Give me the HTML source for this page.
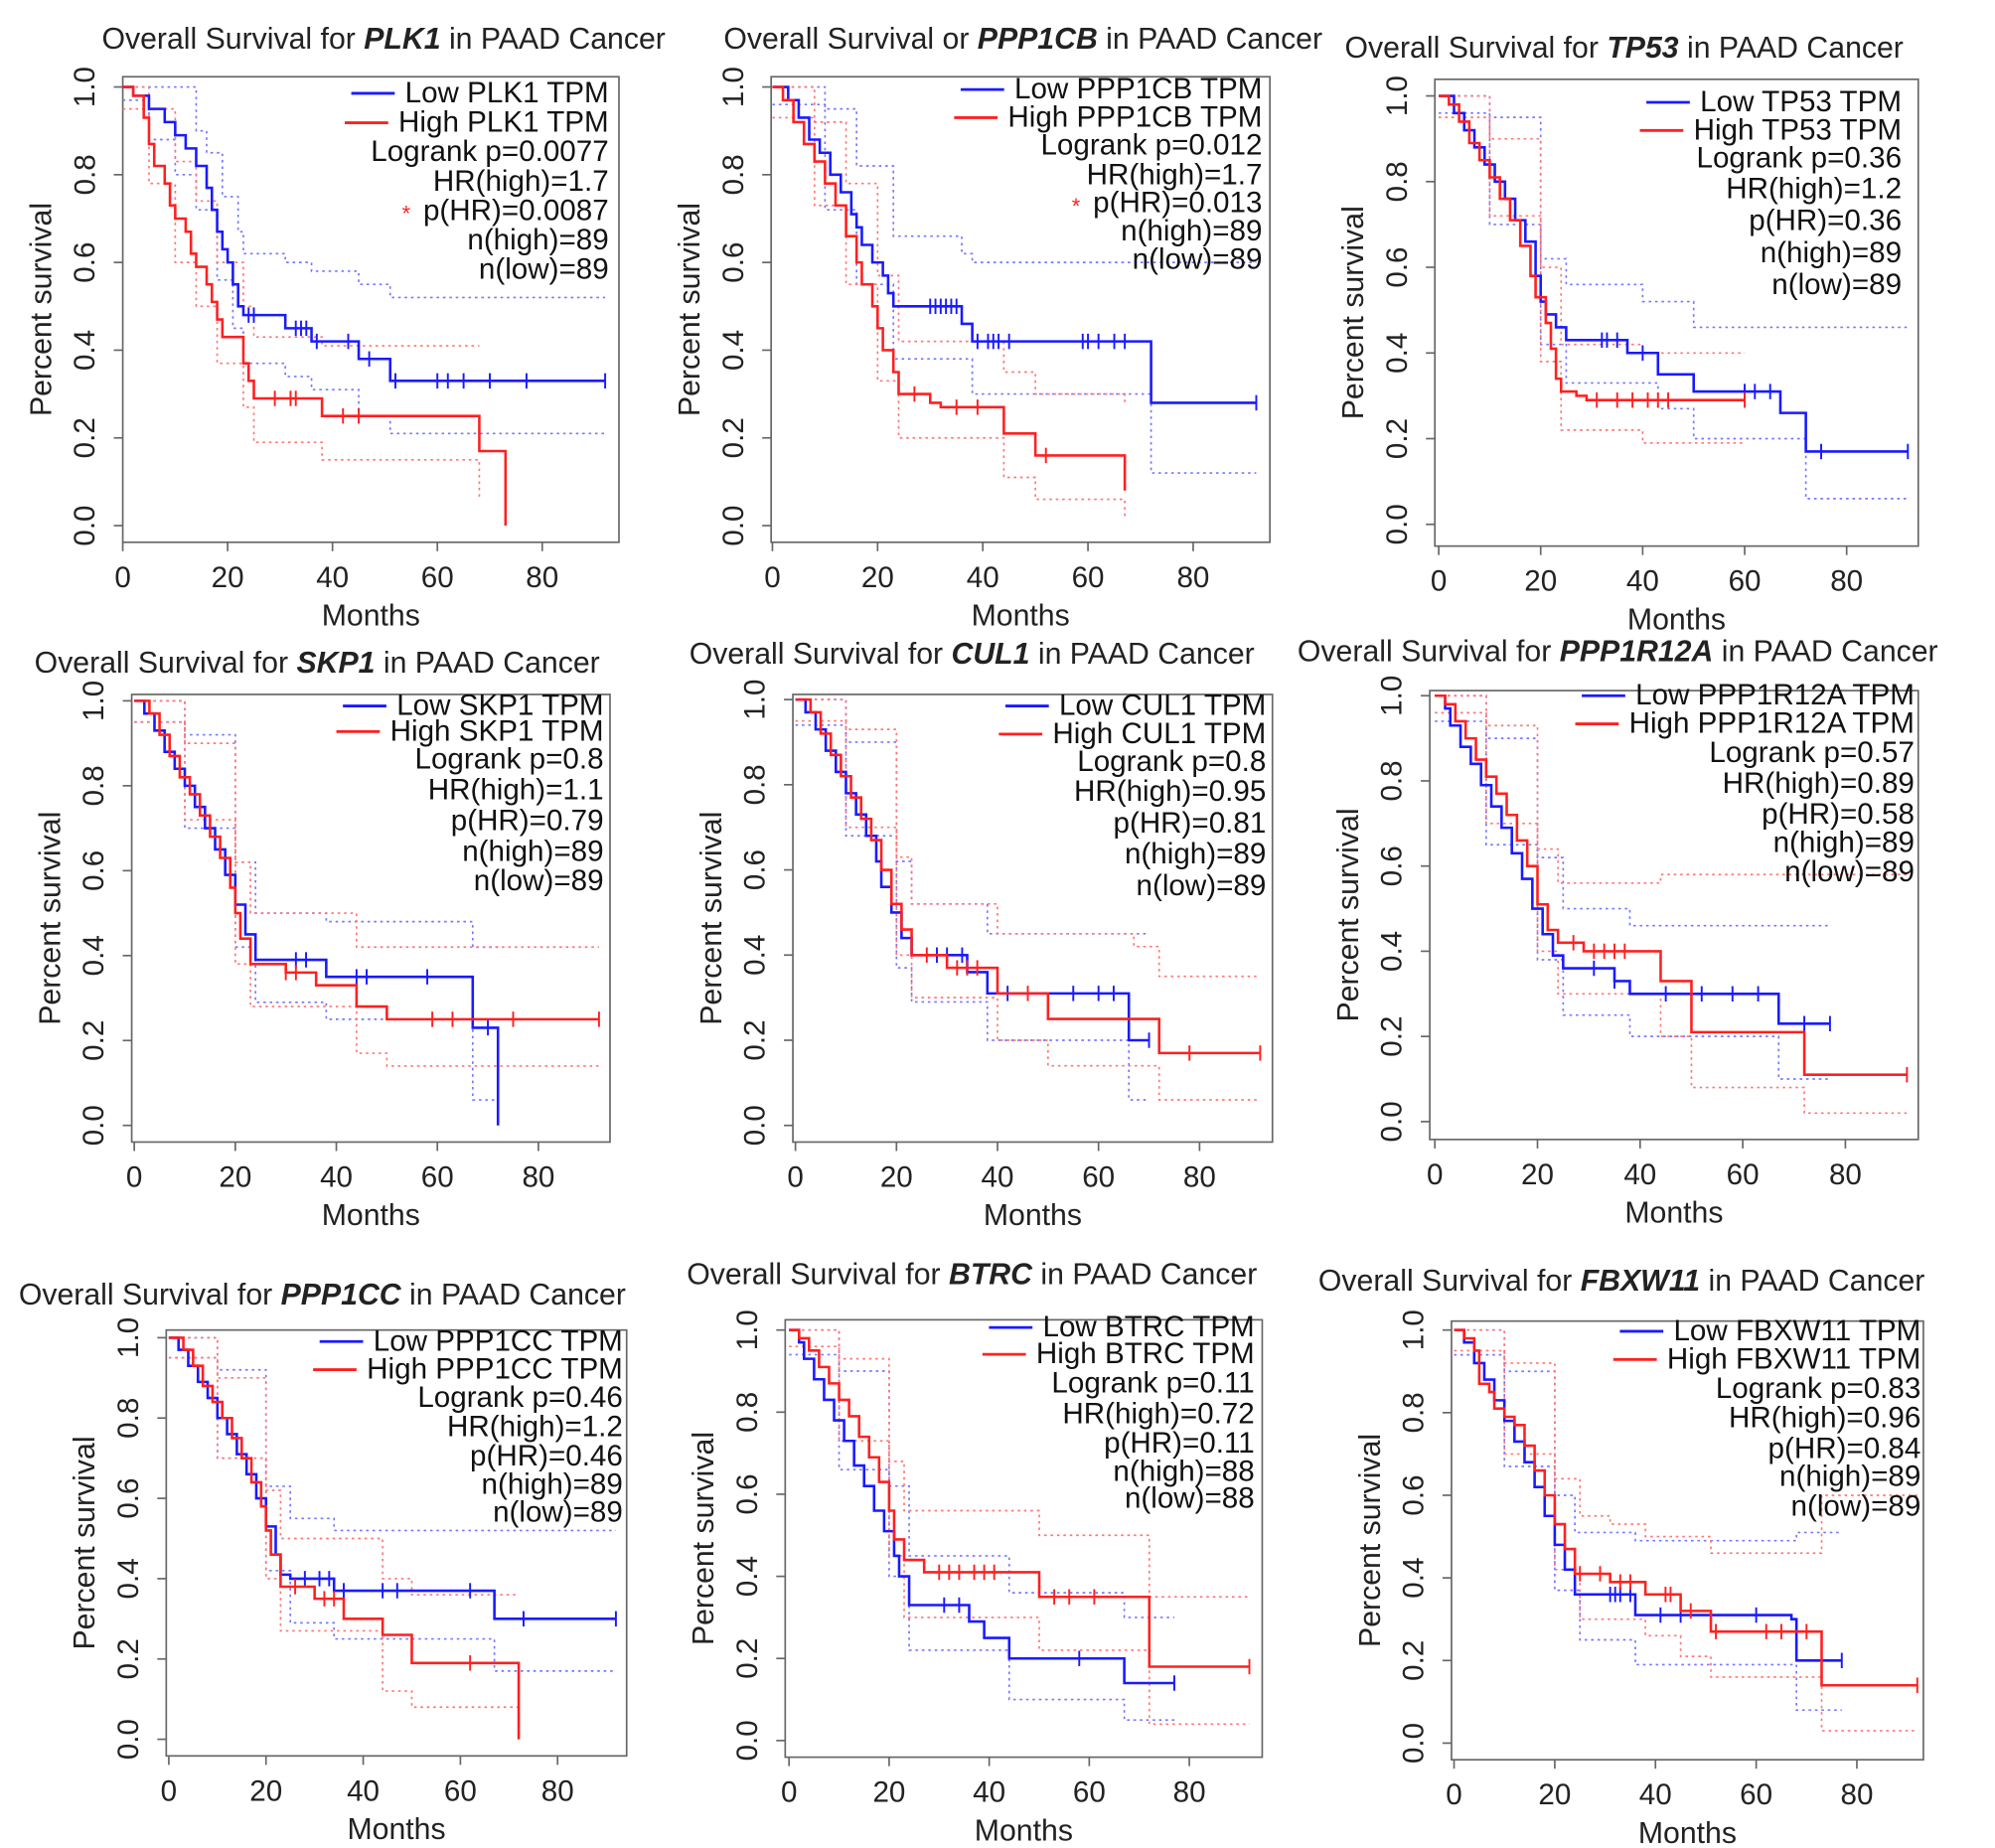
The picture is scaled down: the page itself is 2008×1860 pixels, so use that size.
<!DOCTYPE html>
<html><head><meta charset="utf-8"><style>
html,body{margin:0;padding:0;background:#fff;}
svg{display:block;font-family:"Liberation Sans",sans-serif;}
</style></head><body>
<svg id="fig" width="2008" height="1860" viewBox="0 0 1560 1445" xmlns="http://www.w3.org/2000/svg"></svg>
<script>
// ---- data ----
const genes = ["PLK1","PPP1CB","TP53","SKP1","CUL1","PPP1R12A","PPP1CC","BTRC","FBXW11"];
const titlePre = ["Overall Survival for ","Overall Survival or ","Overall Survival for ","Overall Survival for ","Overall Survival for ","Overall  Survival for ","Overall Survival for ","Overall Survival for ","Overall Survival for "];
const logrankP = ["0.0077","0.012","0.36","0.8","0.8","0.57","0.46","0.11","0.83"];
const hrHigh = ["1.7","1.7","1.2","1.1","0.95","0.89","1.2","0.72","0.96"];
const pHR = ["0.0087","0.013","0.36","0.79","0.81","0.58","0.46","0.11","0.84"];
const nHigh = [89,89,89,89,89,89,89,88,89];
const nLow = [89,89,89,89,89,89,89,88,89];
const significant = [true,true,false,false,false,false,false,false,false];
const xTicks = [0,20,40,60,80];
const yTicks = [0,0.2,0.4,0.6,0.8,1.0];
const yTickLabels = ["0.0","0.2","0.4","0.6","0.8","1.0"];

const lowCurves = [
 [[0,1],[2,0.98],[5,0.95],[8,0.92],[10,0.89],[12,0.86],[14,0.82],[16,0.77],[17,0.72],[18,0.67],[19,0.63],[20,0.6],[21,0.55],[22,0.5],[23,0.48],[31,0.45],[36,0.42],[45,0.38],[51,0.33],[92,0.33]],
 [[0,1],[3,0.97],[5,0.93],[7,0.88],[9,0.85],[11,0.8],[13,0.76],[15,0.71],[16,0.68],[17,0.64],[19,0.6],[21,0.57],[22,0.53],[23,0.5],[36,0.46],[38,0.42],[72,0.28],[92,0.28]],
 [[0,1],[3,0.96],[5,0.92],[7,0.88],[9,0.84],[11,0.8],[13,0.76],[15,0.71],[17,0.66],[19,0.58],[20,0.52],[21,0.49],[23,0.46],[25,0.43],[37,0.4],[43,0.35],[50,0.31],[67,0.26],[72,0.17],[92,0.17]],
 [[0,1],[2,0.97],[4,0.93],[6,0.88],[8,0.84],[10,0.8],[12,0.75],[14,0.7],[16,0.65],[18,0.59],[20,0.52],[22,0.45],[24,0.39],[38,0.35],[67,0.23],[72,0.0]],
 [[0,1],[2,0.97],[4,0.93],[6,0.88],[8,0.83],[10,0.78],[12,0.73],[14,0.68],[16,0.62],[17,0.56],[19,0.5],[21,0.44],[23,0.4],[34,0.36],[38,0.31],[66,0.2],[70,0.2]],
 [[0,1],[2,0.97],[3,0.93],[5,0.88],[7,0.84],[9,0.79],[11,0.74],[13,0.69],[15,0.63],[17,0.57],[19,0.5],[21,0.44],[23,0.39],[25,0.36],[35,0.33],[38,0.3],[67,0.23],[77,0.23]],
 [[0,1],[2,0.97],[4,0.93],[6,0.89],[8,0.85],[10,0.8],[12,0.76],[14,0.71],[16,0.66],[18,0.6],[20,0.53],[22,0.46],[23,0.41],[25,0.4],[34,0.37],[67,0.3],[92,0.3]],
 [[0,1],[2,0.97],[3,0.93],[5,0.88],[7,0.83],[9,0.78],[11,0.73],[13,0.67],[15,0.62],[17,0.56],[19,0.51],[21,0.45],[22,0.4],[24,0.33],[36,0.29],[39,0.25],[44,0.2],[67,0.14],[77,0.14]],
 [[0,1],[2,0.97],[4,0.92],[6,0.88],[8,0.83],[10,0.78],[12,0.73],[14,0.68],[16,0.62],[18,0.55],[20,0.48],[22,0.42],[24,0.36],[36,0.31],[67,0.3],[68,0.2],[77,0.2]]
];
const highCurves = [
 [[0,1],[2,0.98],[4,0.93],[5,0.87],[6,0.82],[8,0.78],[9,0.73],[10,0.7],[12,0.67],[13,0.62],[14,0.59],[16,0.55],[17,0.51],[18,0.47],[19,0.43],[23,0.37],[24,0.33],[25,0.29],[38,0.25],[68,0.17],[73,0.0]],
 [[0,1],[2,0.97],[4,0.92],[6,0.87],[8,0.83],[10,0.78],[12,0.73],[14,0.66],[16,0.6],[17,0.55],[19,0.5],[20,0.45],[21,0.4],[23,0.35],[24,0.3],[30,0.28],[32,0.27],[44,0.21],[50,0.16],[67,0.08]],
 [[0,1],[2,0.98],[4,0.94],[6,0.89],[8,0.85],[10,0.81],[12,0.76],[14,0.71],[16,0.65],[18,0.58],[19,0.53],[21,0.47],[22,0.41],[23,0.34],[24,0.31],[27,0.3],[29,0.29],[60,0.29]],
 [[0,1],[3,0.97],[5,0.92],[7,0.87],[9,0.82],[11,0.78],[13,0.73],[15,0.68],[17,0.63],[19,0.56],[20,0.5],[21,0.44],[23,0.38],[30,0.36],[36,0.33],[44,0.28],[50,0.25],[92,0.25]],
 [[0,1],[3,0.97],[5,0.92],[7,0.87],[9,0.82],[11,0.77],[13,0.72],[15,0.67],[17,0.6],[19,0.52],[21,0.46],[23,0.4],[30,0.37],[40,0.31],[50,0.25],[72,0.17],[92,0.17]],
 [[0,1],[2,0.98],[4,0.94],[6,0.9],[8,0.85],[10,0.81],[12,0.77],[14,0.72],[16,0.66],[18,0.6],[20,0.51],[22,0.45],[24,0.42],[29,0.4],[44,0.33],[50,0.21],[72,0.11],[92,0.11]],
 [[0,1],[3,0.97],[5,0.93],[7,0.88],[9,0.84],[11,0.8],[13,0.75],[15,0.7],[17,0.64],[19,0.58],[20,0.52],[21,0.46],[23,0.38],[30,0.35],[36,0.3],[44,0.26],[50,0.19],[72,0.0]],
 [[0,1],[2,0.98],[4,0.95],[6,0.91],[8,0.87],[10,0.83],[12,0.79],[14,0.74],[16,0.69],[18,0.63],[20,0.56],[21,0.49],[23,0.44],[27,0.41],[50,0.35],[72,0.18],[92,0.18]],
 [[0,1],[2,0.98],[4,0.95],[5,0.87],[7,0.85],[8,0.81],[10,0.79],[12,0.77],[14,0.72],[16,0.66],[18,0.6],[20,0.53],[22,0.47],[24,0.41],[31,0.39],[38,0.36],[45,0.32],[51,0.27],[73,0.14],[92,0.14]]
];
const lowCensor = [[24,25,33,34,35,37,43,47,52,60,62,65,70,77,92],[30,31,32,33,34,35,39,41,42,43,45,59,60,62,65,67,92],[32,33,35,40,60,62,65,75,92],[32,34,44,46,58,70],[28,30,33,42,55,60,63,70],[31,35,45,52,58,63,72,77],[28,31,33,36,44,47,62,73,92],[31,34,58,77],[31,32,33,35,41,45,60,77]];
const highCensor = [[29,32,33,42,45],[27,35,39,52],[31,35,38,41,43,45,60],[30,32,59,63,75,92],[26,32,34,36,46,78,92],[27,31,33,35,37,92],[26,32,34,62],[30,32,34,37,39,41,53,56,61,92],[25,29,33,35,42,43,47,52,62,65,70,92]];
const lowUpper = [
 [[0,1],[8,1],[14,0.9],[16,0.85],[19,0.75],[22,0.67],[23,0.62],[31,0.6],[36,0.58],[45,0.55],[51,0.52],[92,0.52]],
 [[0,1],[10,0.95],[16,0.82],[23,0.66],[36,0.62],[38,0.6],[92,0.6]],
 [[0,1],[10,0.95],[20,0.62],[25,0.56],[40,0.52],[50,0.46],[92,0.46]],
 [[0,1],[10,0.92],[20,0.62],[24,0.5],[38,0.48],[67,0.42],[72,0.42]],
 [[0,1],[10,0.9],[20,0.62],[23,0.52],[38,0.45],[70,0.45]],
 [[0,1],[10,0.9],[20,0.62],[25,0.5],[38,0.46],[77,0.46]],
 [[0,1],[10,0.92],[20,0.63],[25,0.55],[34,0.52],[92,0.52]],
 [[0,1],[10,0.9],[20,0.62],[24,0.45],[44,0.36],[67,0.3],[77,0.3]],
 [[0,1],[10,0.9],[20,0.6],[24,0.51],[36,0.49],[68,0.51],[77,0.51]]
];
const lowLower = [
 [[0,0.97],[5,0.88],[10,0.8],[14,0.72],[18,0.56],[21,0.45],[23,0.37],[31,0.34],[36,0.31],[45,0.25],[51,0.21],[92,0.21]],
 [[0,0.96],[10,0.72],[16,0.55],[23,0.38],[38,0.3],[72,0.12],[92,0.12]],
 [[0,0.96],[10,0.7],[20,0.42],[25,0.33],[43,0.27],[50,0.2],[72,0.06],[92,0.06]],
 [[0,0.95],[10,0.7],[20,0.42],[24,0.29],[38,0.25],[67,0.06],[72,0.0]],
 [[0,0.94],[10,0.68],[20,0.37],[23,0.29],[38,0.2],[66,0.06],[70,0.06]],
 [[0,0.94],[10,0.65],[20,0.38],[25,0.25],[38,0.2],[67,0.1],[77,0.1]],
 [[0,0.95],[10,0.7],[20,0.42],[25,0.29],[34,0.25],[67,0.17],[92,0.17]],
 [[0,0.94],[10,0.66],[20,0.4],[24,0.22],[44,0.1],[67,0.05],[77,0.05]],
 [[0,0.94],[10,0.67],[20,0.37],[25,0.25],[36,0.19],[68,0.08],[77,0.08]]
];
const highUpper = [
 [[0,1],[5,0.95],[10,0.83],[14,0.74],[18,0.6],[23,0.5],[25,0.43],[38,0.41],[68,0.41]],
 [[0,1],[8,0.92],[14,0.78],[20,0.57],[24,0.42],[44,0.35],[50,0.3],[67,0.28]],
 [[0,1],[10,0.9],[20,0.6],[24,0.42],[40,0.4],[60,0.4]],
 [[0,1],[10,0.9],[20,0.62],[23,0.5],[44,0.42],[92,0.42]],
 [[0,1],[10,0.93],[20,0.63],[23,0.52],[40,0.45],[67,0.42],[72,0.35],[92,0.35]],
 [[0,1],[10,0.93],[20,0.64],[24,0.56],[44,0.58],[92,0.58]],
 [[0,1],[10,0.9],[20,0.62],[23,0.5],[44,0.4],[50,0.36],[72,0.36]],
 [[0,1],[10,0.93],[20,0.68],[23,0.56],[50,0.5],[72,0.35],[92,0.35]],
 [[0,1],[10,0.92],[20,0.64],[25,0.55],[31,0.53],[38,0.5],[51,0.46],[73,0.6],[92,0.6]]
];
const highLower = [
 [[0,0.95],[5,0.78],[10,0.6],[14,0.5],[18,0.37],[23,0.27],[25,0.19],[38,0.15],[67,0.15],[68,0.06]],
 [[0,0.93],[8,0.73],[14,0.55],[20,0.33],[24,0.2],[44,0.11],[50,0.06],[67,0.02]],
 [[0,0.95],[10,0.72],[20,0.38],[24,0.22],[40,0.19],[60,0.19]],
 [[0,0.95],[10,0.72],[20,0.38],[23,0.28],[44,0.17],[50,0.14],[92,0.14]],
 [[0,0.95],[10,0.7],[20,0.4],[23,0.3],[40,0.2],[50,0.14],[72,0.06],[92,0.06]],
 [[0,0.96],[10,0.7],[20,0.4],[24,0.3],[44,0.2],[50,0.08],[72,0.02],[92,0.02]],
 [[0,0.95],[10,0.7],[20,0.4],[23,0.27],[44,0.12],[50,0.08],[72,0.0]],
 [[0,0.96],[10,0.73],[20,0.45],[23,0.3],[50,0.22],[72,0.04],[92,0.04]],
 [[0,0.95],[10,0.7],[20,0.42],[25,0.3],[38,0.26],[45,0.21],[51,0.16],[73,0.03],[92,0.03]]
];

// ---- layout (preview units; viewBox scales to 2008x1860) ----
const panels = [
 {L:96,R:484,T:60,B:424,x0:96,x80:424,y1:68,y0:411,tx:300,ty:38,lr:476,ly:[80,103,126,149,172,195,218]},
 {L:603,R:993,T:60,B:424,x0:604,x80:933,y1:68,y0:411,tx:800,ty:38,lr:987,ly:[77,99,121,144,166,188,210]},
 {L:1122,R:1500,T:62,B:427,x0:1125,x80:1444,y1:75,y0:410,tx:1270,ty:45,lr:1487,ly:[87,109,131,155,180,205,230]},
 {L:103,R:477,T:543,B:893,x0:105,x80:421,y1:548,y0:880,tx:248,ty:526,lr:472,ly:[559,579,601,625,649,673,696]},
 {L:620,R:995,T:543,B:893,x0:622,x80:938,y1:547,y0:880,tx:760,ty:519,lr:990,ly:[559,581,603,626,651,675,700]},
 {L:1118,R:1500,T:540,B:891,x0:1122,x80:1443,y1:544,y0:877,tx:1265,ty:517,lr:1497,ly:[551,573,596,620,644,666,689]},
 {L:130,R:490,T:1040,B:1373,x0:132,x80:436,y1:1046,y0:1360,tx:252,ty:1020,lr:487,ly:[1056,1078,1100,1123,1146,1168,1190]},
 {L:614,R:987,T:1032,B:1374,x0:617,x80:930,y1:1040,y0:1361,tx:760,ty:1004,lr:981,ly:[1045,1066,1089,1113,1136,1158,1179]},
 {L:1135,R:1504,T:1033,B:1376,x0:1137,x80:1452,y1:1040,y0:1363,tx:1268,ty:1009,lr:1502,ly:[1048,1070,1093,1116,1140,1162,1185]}
];
const NS="http://www.w3.org/2000/svg";
const svg=document.getElementById('fig');
function el(tag,attrs,parent,text){const e=document.createElementNS(NS,tag);for(const k in attrs)e.setAttribute(k,attrs[k]);if(text!==undefined)e.textContent=text;(parent||svg).appendChild(e);return e;}
function stepPath(pts,xs,ys){let d="M"+xs(pts[0][0])+" "+ys(pts[0][1]);for(let i=1;i<pts.length;i++){d+=" H"+xs(pts[i][0])+" V"+ys(pts[i][1]);}return d;}
function survAt(pts,t){let s=pts[0][1];for(const p of pts){if(p[0]<=t)s=p[1];}return s;}

panels.forEach((p,i)=>{
  const g=el('g',{});
  
  
  const xs=t=>p.x0+(p.x80-p.x0)*t/80;
  const ys=s=>p.y0-(p.y0-p.y1)*s;
  const tt=el('text',{x:p.tx,y:p.ty,'text-anchor':'middle','font-size':23.5,fill:'#222'},g);
  
  
  el('tspan',{},tt,titlePre[i]);
  el('tspan',{'font-weight':'bold','font-style':'italic'},tt,genes[i]);
  el('tspan',{},tt," in PAAD Cancer");
  const box=el('rect',{x:p.L,y:p.T,width:p.R-p.L,height:p.B-p.T,fill:'none',stroke:'#666','stroke-width':1.3},g);
  
  
  xTicks.forEach(v=>{
    el('line',{x1:xs(v),x2:xs(v),y1:p.B,y2:p.B+7,stroke:'#666','stroke-width':1.3},g);
    const l=el('text',{x:xs(v),y:p.B+35,'text-anchor':'middle','font-size':23,fill:'#222'},g,String(v));
    
    
  });
  yTicks.forEach((v,k)=>{
    el('line',{x1:p.L,x2:p.L-7,y1:ys(v),y2:ys(v),stroke:'#666','stroke-width':1.3},g);
    const lx=p.L-22;
    const l=el('text',{x:lx,y:ys(v),'text-anchor':'middle','font-size':23,fill:'#222',transform:`rotate(-90 ${lx} ${ys(v)})`},g,yTickLabels[k]);
    
    
  });
  const xt=el('text',{x:(p.L+p.R)/2,y:p.B+65,'text-anchor':'middle','font-size':23.5,fill:'#222'},g,"Months");
  
  
  const ax=p.L-56,ay=(p.T+p.B)/2;
  const yt=el('text',{x:ax,y:ay,'text-anchor':'middle','font-size':23.5,fill:'#222',transform:`rotate(-90 ${ax} ${ay})`},g,"Percent survival");
  
  
  [[lowUpper[i],'#7777ff'],[lowLower[i],'#7777ff'],[highUpper[i],'#ff7777'],[highLower[i],'#ff7777']].forEach(([pts,c])=>{
    const ci=el('path',{d:stepPath(pts,xs,ys),fill:'none',stroke:c,'stroke-width':1.3,'stroke-dasharray':'2 3'},g);
    
    
  });
  [[lowCurves[i],lowCensor[i],'#1a1aff','low'],[highCurves[i],highCensor[i],'#ff2020','high']].forEach(([pts,cen,c,nm])=>{
    const pa=el('path',{d:stepPath(pts,xs,ys),fill:'none',stroke:c,'stroke-width':2},g);
    
    
    cen.forEach(t=>{
      const y=ys(survAt(pts,t));
      const m=el('line',{x1:xs(t),x2:xs(t),y1:y-6,y2:y+6,stroke:c,'stroke-width':1.5},g);
      
      
    });
  });
  const lines=["Low "+genes[i]+" TPM","High "+genes[i]+" TPM","Logrank p="+logrankP[i],"HR(high)="+hrHigh[i],"p(HR)="+pHR[i],"n(high)="+nHigh[i],"n(low)="+nLow[i]];
  lines.forEach((s,k)=>{
    const t=el('text',{x:p.lr,y:p.ly[k],'text-anchor':'end','font-size':23,fill:'#111'},g,s);
    
    
    if(k<2){
      const w=t.getComputedTextLength();
      const x2=p.lr-w-8;
      const ln=el('line',{x1:x2-34,x2:x2,y1:p.ly[k]-7,y2:p.ly[k]-7,stroke:k==0?'#1a1aff':'#ff2020','stroke-width':2.2},g);
      
      
    }
    if(k==4&&significant[i]){
      const w=t.getComputedTextLength();
      const st=el('text',{x:p.lr-w-10,y:p.ly[k]+1,'text-anchor':'end','font-size':17,fill:'#ff2020'},g,"*");
      
      
    }
  });
});
</script>
</body></html>
